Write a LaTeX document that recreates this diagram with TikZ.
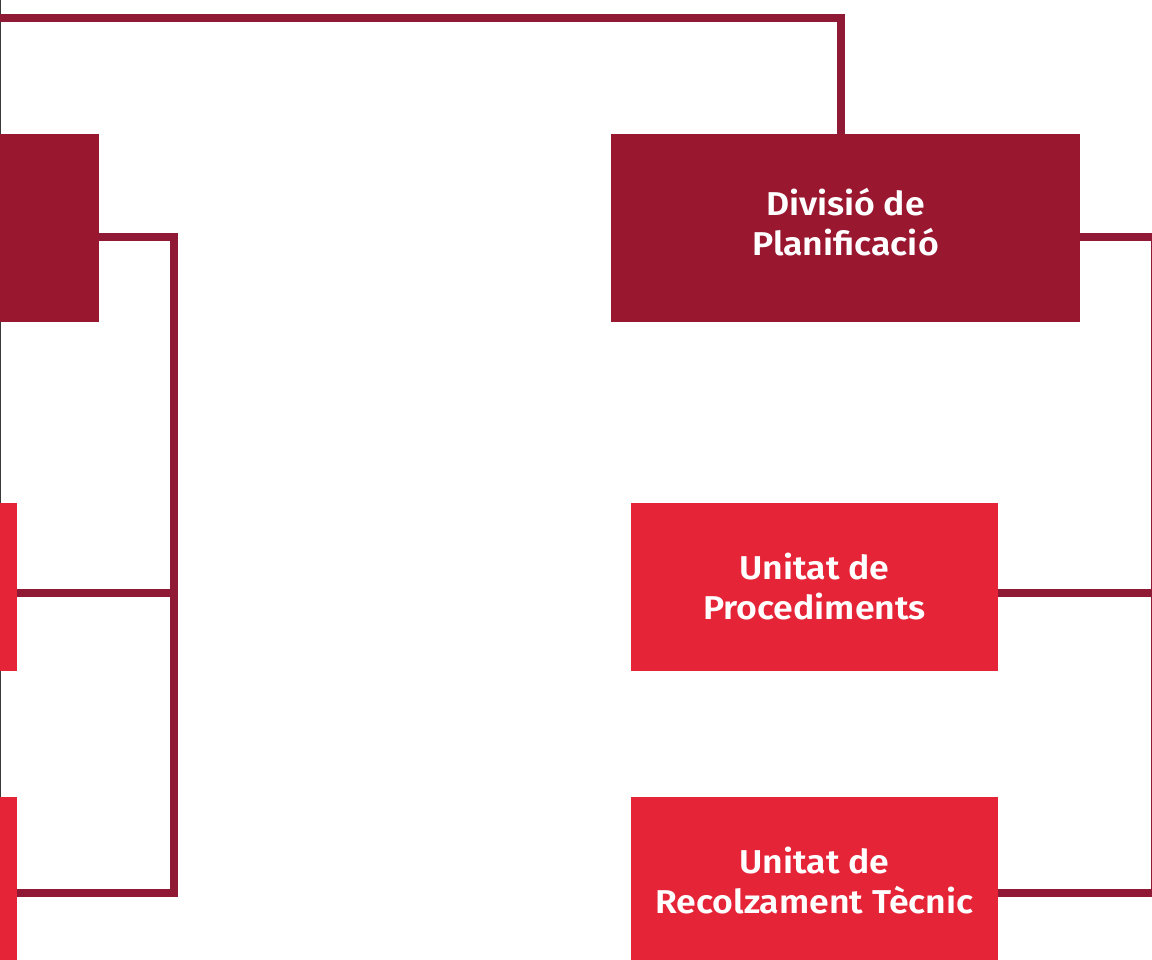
\documentclass[tikz,border=0pt]{standalone}
\usepackage{fontspec}
\newfontfamily\boxfont{Fira Sans SemiBold}[FakeStretch=1.08]
\definecolor{darkbox}{HTML}{9A1730}
\definecolor{redbox}{HTML}{E52437}
\definecolor{linec}{HTML}{901936}
\definecolor{edgec}{HTML}{3A3A3A}
\begin{document}
\begin{tikzpicture}[x=1pt,y=-1pt,
  divbox/.style={fill=darkbox,draw=none,minimum width=469pt,minimum height=188pt,inner sep=0pt,
    text=white,align=center,font=\boxfont\fontsize{33}{40}\selectfont},
  unitbox/.style={fill=redbox,draw=none,minimum width=367pt,minimum height=168pt,inner sep=0pt,
    text=white,align=center,font=\boxfont\fontsize{33}{40}\selectfont},
  conn/.style={draw=linec,line width=8pt,line join=miter,line cap=butt}]
\useasboundingbox (0,0) rectangle (1152,960);
\clip (0,0) rectangle (1152,960);
% thin edge line at left border
\draw[edgec,line width=1.2pt] (0.6,0) -- (0.6,960);
% nodes
\node[divbox] (ldiv) at (-135.5,228) {};
\node[unitbox] (lu1) at (-166.5,587) {};
\node[unitbox] (lu2) at (-166.5,881) {};
\node[divbox] (div) at (845.5,228) {\raisebox{3pt}{\begin{tabular}{@{}c@{}}Divisió de\\Planificació\end{tabular}}};
\node[unitbox] (proc) at (814.5,587) {Unitat de\\Procediments};
\node[unitbox] (rec) at (814.5,881) {Unitat de\\Recolzament Tècnic};
% coordinates
\coordinate (topL) at (-20,18);
\coordinate (topR) at (841,18);
\coordinate (lv) at (174,237);
\coordinate (lvb) at (174,893);
\coordinate (rv) at (1155,237);
\coordinate (rvb) at (1155,893);
% connectors
\draw[conn] (topL) -- (topR) -- (div.north -| topR);
\draw[conn] (ldiv.east |- lv) -- (lv) -- (lvb) -- (lu2.east |- lvb);
\draw[conn] (lu1.east |- 0,593) -- (174,593);
\draw[conn] (div.east |- rv) -- (rv) -- (rvb) -- (rec.east |- rvb);
\draw[conn] (proc.east |- 0,593) -- (1155,593);
\end{tikzpicture}
\end{document}
